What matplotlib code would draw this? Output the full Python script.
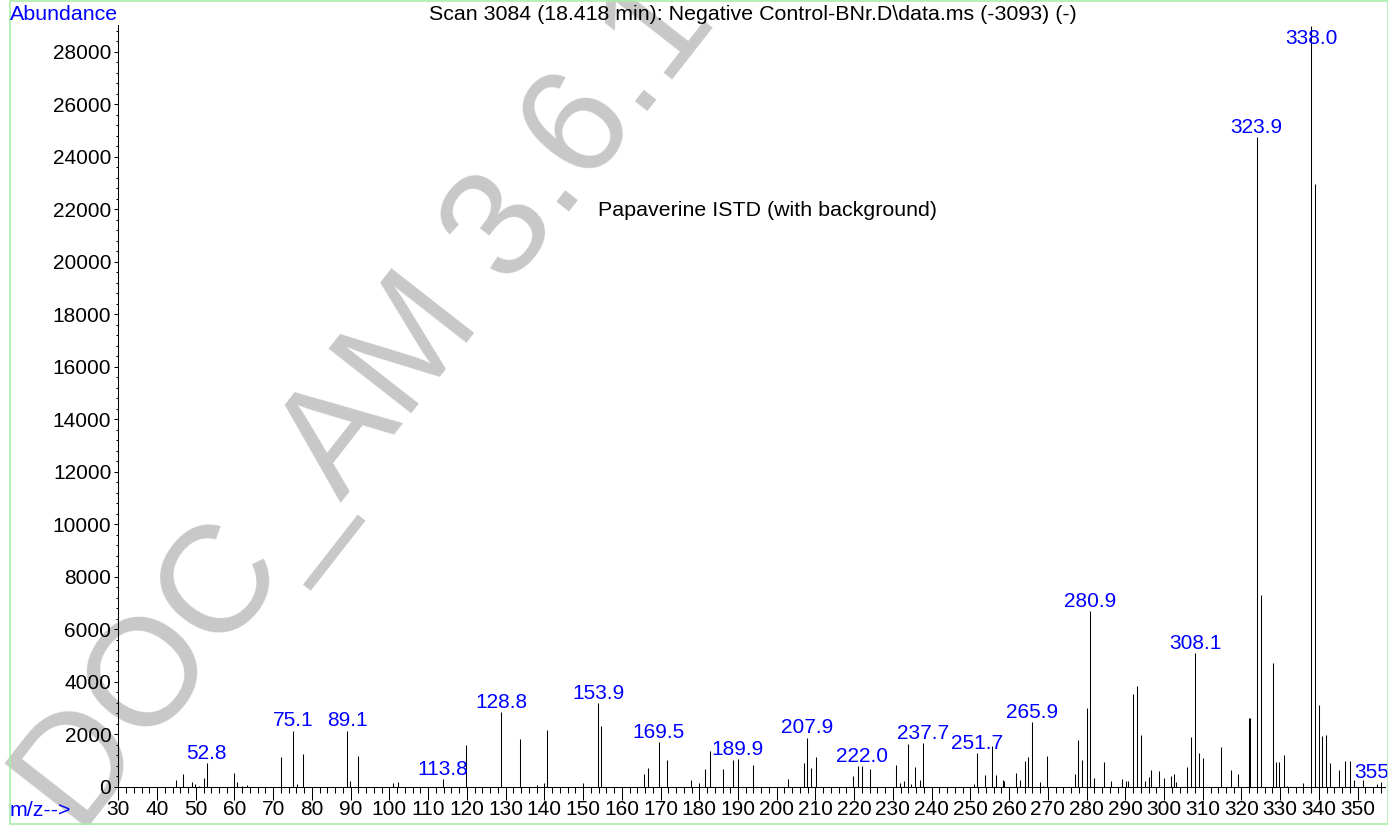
import matplotlib
matplotlib.use("Agg")
import matplotlib.pyplot as plt
from matplotlib.ticker import MultipleLocator
from matplotlib.patches import Rectangle

plt.rcParams['font.family'] = ['Liberation Sans', 'DejaVu Sans']

# spectrum: m/z and abundance of each line
mz = [45.0, 46.8, 49.0, 49.9, 50.9, 52.1, 52.8, 59.9, 60.7, 62.0, 63.2,
      72.0, 75.1, 76.1, 77.7, 89.1, 89.8, 91.8, 100.8, 102.1, 113.8, 119.8,
      128.8, 133.6, 138.1, 140.0, 140.7, 150.0, 153.9, 154.7, 165.8, 166.8,
      169.5, 171.7, 177.9, 179.9, 181.6, 182.8, 186.2, 188.7, 189.9, 194.0,
      202.9, 207.0, 207.9, 208.9, 210.1, 219.7, 220.9, 222.0, 224.1, 230.9,
      231.9, 232.8, 233.9, 234.7, 235.8, 236.9, 237.7, 250.9, 251.7, 253.9,
      255.7, 256.7, 258.4, 258.7, 261.7, 262.8, 264.0, 264.9, 265.9, 268.0,
      268.7, 269.9, 276.9, 277.9, 278.9, 280.0, 280.9, 281.9, 284.5, 286.2,
      289.2, 290.2, 290.8, 292.0, 293.0, 294.0, 295.1, 296.0, 296.7, 298.8,
      300.1, 301.9, 302.7, 303.0, 306.0, 307.0, 308.1, 308.9, 310.1, 314.6,
      317.2, 319.0, 321.9, 322.1, 323.9, 325.0, 328.1, 329.0, 329.8, 331.0,
      331.7, 336.0, 338.0, 338.9, 340.0, 340.9, 341.9, 342.9, 345.1, 346.8,
      347.9, 349.0, 351.5, 354.9, 355.9]
abundance = [250, 495, 170, 95, 45, 320, 915, 510, 185, 40, 60,
             1120, 2135, 110, 1260, 2135, 200, 1180, 130, 190, 280, 1580,
             2845, 1830, 60, 155, 2160, 130, 3175, 2310, 485, 710,
             1715, 1015, 255, 130, 685, 1370, 685, 1015, 1040, 815,
             280, 890, 1870, 710, 1145, 410, 790, 790, 685, 815,
             130, 205, 1645, 90, 765, 255, 1650, 100, 1285, 455,
             1560, 455, 240, 220, 510, 240, 980, 1130, 2465, 180,
             40, 1160, 485, 1780, 1015, 3000, 6695, 320, 940, 230,
             280, 200, 220, 3530, 3835, 1955, 230, 370, 620, 600,
             340, 395, 485, 185, 755, 1905, 5090, 1295, 1090, 1525,
             655, 485, 2605, 2605, 24740, 7310, 4700, 955, 955, 1200,
             40, 145, 29000, 22950, 3105, 1940, 1970, 890, 655, 980,
             980, 250, 250, 100, 165]

# peaks that carry an m/z label
labelled = [52.8, 75.1, 89.1, 113.8, 128.8, 153.9, 169.5, 189.9, 207.9, 222.0,
            237.7, 251.7, 265.9, 280.9, 308.1, 323.9, 338.0, 355.9]

title = "Scan 3084 (18.418 min): Negative Control-BNr.D\\data.ms (-3093) (-)"
note = "Papaverine ISTD (with background)"

W, H = 1388, 825
YMAX = 29020
fig = plt.figure(figsize=(W / 100, H / 100), dpi=100)
ax = fig.add_axes([118.3 / W, (H - 786.7) / H, (1384.8 - 118.3) / W, (786.7 - 25) / H])
ax.set_facecolor('none')

ax.vlines(mz, 0, abundance, color='black', lw=0.75)

for m in labelled:
    h = abundance[mz.index(m)]
    if h > YMAX * 0.95:
        # top peak: label sits inside the frame
        ax.annotate(f"{m:.1f}", (m, YMAX), xytext=(0, -3), textcoords='offset points',
                    ha='center', va='top', color='blue', fontsize=15, annotation_clip=False)
    else:
        ax.annotate(f"{m:.1f}", (m, h), xytext=(0, 3), textcoords='offset points',
                    ha='center', va='baseline', color='blue', fontsize=15, annotation_clip=False)

ax.set_xlim(30, 357)
ax.set_ylim(0, YMAX)
ax.xaxis.set_major_locator(MultipleLocator(10))
ax.xaxis.set_minor_locator(MultipleLocator(2))
ax.yaxis.set_major_locator(MultipleLocator(2000))
ax.yaxis.set_minor_locator(MultipleLocator(400))
ax.tick_params(axis='x', which='major', direction='out', length=9, width=0.75, pad=0.5, labelsize=15)
ax.tick_params(axis='x', which='minor', direction='out', length=4.3, width=0.75)
ax.tick_params(axis='y', which='major', direction='out', length=3, width=0.75, pad=2, labelsize=15)
ax.tick_params(axis='y', which='minor', direction='out', length=1.6, width=0.75)
for s in ['top', 'right']:
    ax.spines[s].set_visible(False)
for s in ['left', 'bottom']:
    ax.spines[s].set_linewidth(0.75)

fig.text(10 / W, 1 - 14 / H, "Abundance", color='blue', fontsize=15.4, va='center', ha='left')
fig.text(10 / W, 1 - 811 / H, "m/z-->", color='blue', fontsize=15.4, va='center', ha='left')
fig.text(753 / W, 1 - 14 / H, title, color='black', fontsize=15.4, va='center', ha='center')
fig.text(598 / W, 1 - 211 / H, note, color='black', fontsize=15.4, va='center', ha='left')

# watermark
fig.text(80 / W, 1 - 838 / H, "DOC_AM 3.6.1", color='#c8c8c8', fontsize=110,
         rotation=52, rotation_mode='anchor', ha='left', va='baseline', zorder=-1)

fig.patches.append(Rectangle((9.5 / W, 1.5 / H), (W - 10) / W, (H - 2.5) / H,
                             transform=fig.transFigure, fill=False,
                             edgecolor='#a8eea8', lw=1.2))

fig.savefig('out.png', dpi=100)
